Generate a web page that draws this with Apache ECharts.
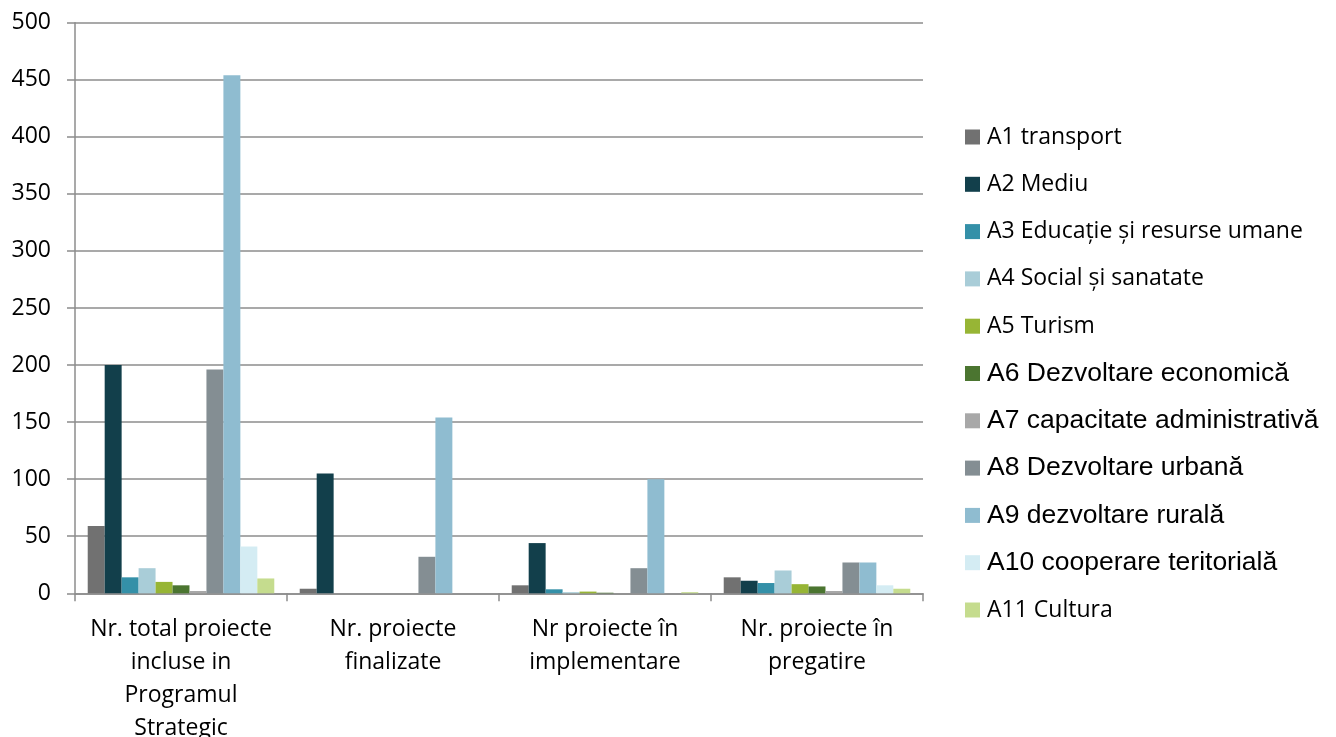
<!DOCTYPE html>
<html>
<head>
<meta charset="utf-8">
<script src="https://cdn.jsdelivr.net/npm/echarts@6/dist/echarts.min.js"></script>
<style>
html,body{margin:0;padding:0;background:#fff;}
#chart{width:1336px;height:737px;}
</style>
</head>
<body>
<div id="chart"></div>
<script>
const categories = [
  "Nr. total proiecte\nincluse in\nProgramul\nStrategic",
  "Nr. proiecte\nfinalizate",
  "Nr proiecte în\nimplementare",
  "Nr. proiecte în\npregatire"
];
const seriesNames = [
  "A1 transport",
  "A2 Mediu",
  "A3 Educație și resurse umane",
  "A4 Social și sanatate",
  "A5 Turism",
  "A6 Dezvoltare economică",
  "A7 capacitate administrativă",
  "A8 Dezvoltare urbană",
  "A9 dezvoltare rurală",
  "A10 cooperare teritorială",
  "A11 Cultura"
];
const a1 = [59, 4, 7, 14];
const a2 = [200, 105, 44, 11];
const a3 = [14, 0, 3.5, 9];
const a4 = [22, 0, 1, 20];
const a5 = [10, 0, 1.5, 8];
const a6 = [7, 0, 0.5, 6];
const a7 = [2, 0, 0, 2];
const a8 = [196, 32, 22, 27];
const a9 = [454, 154, 100, 27];
const a10 = [41, 0, 0, 7];
const a11 = [13, 0, 1, 4];
const yTicks = [0, 50, 100, 150, 200, 250, 300, 350, 400, 450, 500];

const seriesValues = [a1, a2, a3, a4, a5, a6, a7, a8, a9, a10, a11];
const colors = ['#717171', '#123f4b', '#3490a8', '#a9cdd8', '#97b535', '#4b7530',
                '#a8a8a8', '#848e93', '#8fbcd0', '#d4ecf3', '#c5dc8e'];
const arialIdx = new Set([5, 6, 7, 8, 9]);

const chart = echarts.init(document.getElementById('chart'));
chart.setOption({
  animation: false,
  color: colors,
  grid: { left: 75, right: 413, top: 22.7, bottom: 143.7, containLabel: false, outerBoundsMode: 'none' },
  legend: {
    orient: 'vertical',
    left: 965,
    top: 123,
    padding: 0,
    itemWidth: 15,
    itemHeight: 15,
    itemGap: 19.3,
    icon: 'rect',
    data: seriesNames,
    formatter: function (name) {
      const i = seriesNames.indexOf(name);
      return arialIdx.has(i) ? '{b|' + name + '}' : '{a|' + name + '}';
    },
    textStyle: {
      color: '#000',
      lineHeight: 28,
      height: 28,
      rich: {
        a: { fontFamily: 'Open Sans', fontSize: 23, lineHeight: 28, height: 28, color: '#000', padding: [0, 0, 0, 2] },
        b: { fontFamily: 'Liberation Sans', fontSize: 26.5, lineHeight: 28, height: 28, color: '#000', padding: [0, 0, 0, 2] }
      }
    }
  },
  xAxis: {
    type: 'category',
    data: categories,
    axisLine: { lineStyle: { color: '#8c8c8c', width: 1.5 } },
    axisTick: { show: true, length: 8, lineStyle: { color: '#8c8c8c', width: 1.5 } },
    axisLabel: {
      color: '#000', fontFamily: 'Open Sans', fontSize: 23, lineHeight: 33,
      margin: 20, interval: 0
    }
  },
  yAxis: {
    type: 'value',
    min: yTicks[0],
    max: yTicks[yTicks.length - 1],
    interval: yTicks[1] - yTicks[0],
    axisLine: { show: true, lineStyle: { color: '#8c8c8c', width: 1.5 } },
    axisTick: { show: true, length: 8, lineStyle: { color: '#8c8c8c', width: 1.5 } },
    axisLabel: { color: '#000', fontFamily: 'Open Sans', fontSize: 23, margin: 24 },
    splitLine: { show: true, lineStyle: { color: '#8c8c8c', width: 1.5 } }
  },
  series: seriesNames.map(function (name, i) {
    return {
      name: name,
      type: 'bar',
      data: seriesValues[i],
      barGap: '0%',
      barCategoryGap: '12%',
      itemStyle: { color: colors[i] }
    };
  })
});
</script>
</body>
</html>
